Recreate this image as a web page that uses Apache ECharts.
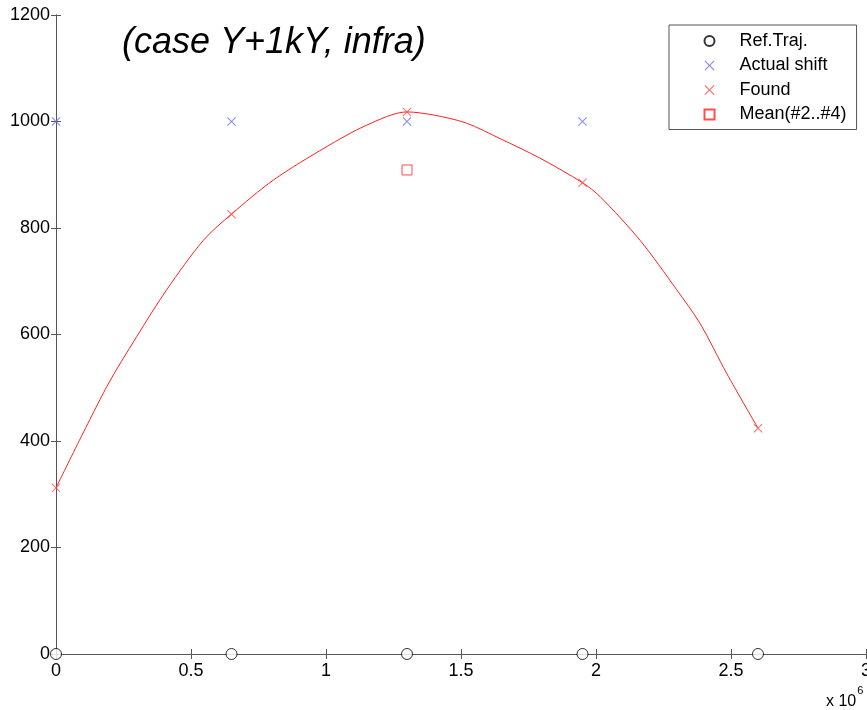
<!DOCTYPE html>
<html>
<head>
<meta charset="utf-8">
<script src="https://cdn.jsdelivr.net/npm/echarts@6/dist/echarts.min.js"></script>
<style>
  html, body { margin: 0; padding: 0; background: #fff; }
  #main { width: 867px; height: 710px; }
</style>
</head>
<body>
<div id="main"></div>
<script>
// positions along the trajectory (x 10^6)
var posX = [0, 650000, 1300000, 1950000, 2600000];
var refY = [0, 0, 0, 0, 0];
var shiftX = [0, 650000, 1300000, 1950000];
var shiftY = [1000, 1000, 1000, 1000];
var foundY = [312, 826, 1018, 885, 424];
var meanX = [1300000];
var meanY = [909];
// fitted curve
var curveX = [0, 188000, 299000, 410000, 546000, 650000, 805000, 1000000, 1150000, 1300000, 1400000, 1520000, 1644000, 1793000, 1950000, 2015000, 2163000, 2299000, 2385000, 2484000, 2600000];
var curveY = [312, 502, 596, 684, 777, 826, 890, 952, 993, 1018, 1012, 997, 968, 931, 885, 859, 777, 684, 621, 527, 424];

// thin filled cross
var xMark = 'path://M0,0.8L0.8,0L5,4.2L9.2,0L10,0.8L5.8,5L10,9.2L9.2,10L5,5.8L0.8,10L0,9.2L4.2,5Z';

function zip(xs, ys) {
  var out = [];
  for (var i = 0; i < xs.length; i++) out.push([xs[i], ys[i]]);
  return out;
}

var myChart = echarts.init(document.getElementById('main'));

var axisLine = { show: true, lineStyle: { color: '#555', width: 1 } };
var axisTick = { show: true, inside: true, length: 5, lineStyle: { color: '#555' } };

var option = {
  animation: false,
  backgroundColor: '#fff',
  textStyle: { fontFamily: 'Liberation Sans, Arial' },
  title: {
    text: '(case Y+1kY, infra)',
    left: 117,
    top: 20,
    textStyle: { fontSize: 36, fontStyle: 'italic', fontWeight: 'normal', color: '#000', fontFamily: 'Liberation Sans' }
  },
  grid: { left: 56, right: 1, top: 15, bottom: 56, containLabel: false, outerBoundsMode: 'none' },
  xAxis: [{
    type: 'value', min: 0, max: 3000000, interval: 500000,
    axisLine: axisLine, axisTick: axisTick, splitLine: { show: false },
    axisLabel: { color: '#000', fontSize: 18, margin: 8, formatter: function (v) { return String(v / 1000000); } }
  }, {
    type: 'value', position: 'top', min: 0, max: 3000000, interval: 500000,
    axisLine: axisLine, axisTick: axisTick, splitLine: { show: false }, axisLabel: { show: false }
  }],
  yAxis: [{
    type: 'value', min: 0, max: 1200, interval: 200,
    axisLine: axisLine, axisTick: axisTick, splitLine: { show: false },
    axisLabel: { color: '#000', fontSize: 18, margin: 6, formatter: function (v) { return String(v); } }
  }, {
    type: 'value', position: 'right', min: 0, max: 1200, interval: 200,
    axisLine: axisLine, axisTick: axisTick, splitLine: { show: false }, axisLabel: { show: false }
  }],
  legend: {
    orient: 'vertical',
    left: 669, top: 25,
    padding: [7, 10, 6, 33],
    itemWidth: 10, itemHeight: 10, itemGap: 6.5,
    borderColor: '#555', borderWidth: 1,
    backgroundColor: '#fff',
    textStyle: { fontSize: 18, color: '#000', lineHeight: 18, padding: [0, 0, 0, 20] },
    data: ['Ref.Traj.', 'Actual shift', 'Found', 'Mean(#2..#4)']
  },
  graphic: [{
    type: 'text', left: 826, top: 685,
    style: {
      text: '{a|x 10}{b|6}',
      rich: {
        a: { fontSize: 16, fontFamily: 'Liberation Sans', fill: '#000', verticalAlign: 'bottom' },
        b: { fontSize: 11, fontFamily: 'Liberation Sans', fill: '#000', verticalAlign: 'top', padding: [0, 0, 14, 1] }
      }
    }
  }],
  series: [{
    name: 'curve',
    type: 'line',
    data: zip(curveX, curveY),
    smooth: 0.3,
    showSymbol: false,
    silent: true,
    lineStyle: { color: '#ff2020', width: 1 },
    z: 2
  }, {
    name: 'Ref.Traj.',
    type: 'scatter',
    data: zip(posX, refY),
    symbol: 'circle', symbolSize: 11,
    silent: true, emphasis: { disabled: true },
    itemStyle: { color: '#fff', borderColor: '#000', borderWidth: 1 },
    clip: false, z: 5
  }, {
    name: 'Actual shift',
    type: 'scatter',
    data: zip(shiftX, shiftY),
    symbol: xMark, symbolSize: 9,
    silent: true, emphasis: { disabled: true },
    itemStyle: { color: '#6a6aff', borderWidth: 0 },
    clip: false, z: 4
  }, {
    name: 'Found',
    type: 'scatter',
    data: zip(posX, foundY),
    symbol: xMark, symbolSize: 9,
    silent: true, emphasis: { disabled: true },
    itemStyle: { color: '#ff4a4a', borderWidth: 0 },
    clip: false, z: 4
  }, {
    name: 'Mean(#2..#4)',
    type: 'scatter',
    data: zip(meanX, meanY),
    symbol: 'rect', symbolSize: 10,
    silent: true, emphasis: { disabled: true },
    itemStyle: { color: 'none', borderColor: '#ff2020', borderWidth: 1 },
    clip: false, z: 4
  }]
};

myChart.setOption(option);
</script>
</body>
</html>
